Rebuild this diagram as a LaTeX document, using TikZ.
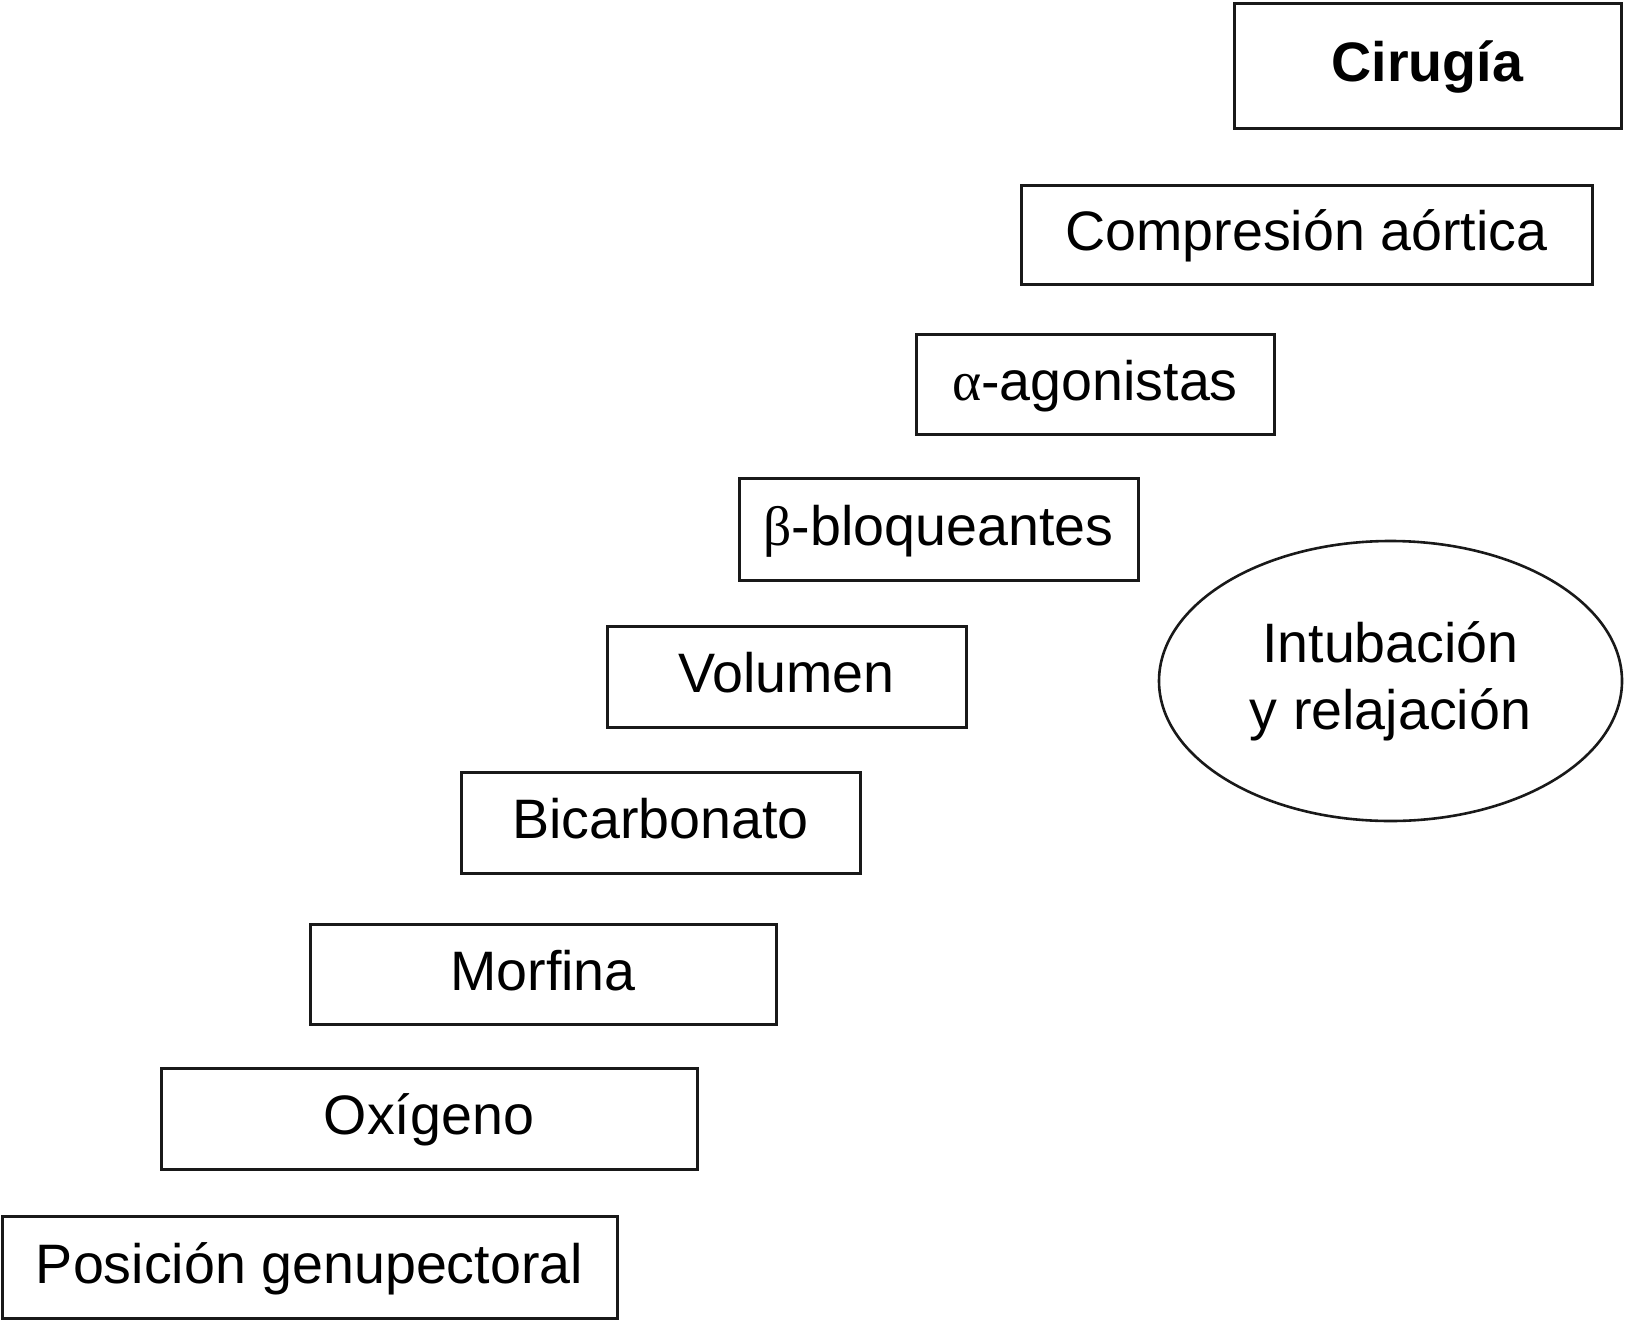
\documentclass[tikz,border=0pt]{standalone}
\usepackage{fontspec}
\setmainfont{Liberation Sans}
\newfontfamily\grk{Liberation Serif}
\usetikzlibrary{shapes.geometric}
\begin{document}
\begin{tikzpicture}[x=1pt,y=-1pt,
  stepbox/.style={draw=black!90,line width=3pt,rectangle,inner sep=0pt,
    text height=41.7pt,text depth=9.5pt,
    font=\fontsize{55.6}{66.7}\selectfont},
  ovalbox/.style={draw=black!90,line width=2.6pt,ellipse,inner sep=0pt,align=center,
    font=\fontsize{55.6}{67}\selectfont}]
\useasboundingbox (0,0) rectangle (1625,1320);
\node[stepbox,minimum width=387pt,minimum height=125pt] (cir) at (1427.5,65.5) {\bfseries Cirugía};
\node[stepbox,minimum width=571pt,minimum height=99pt] (comp) at (1306.5,234.5) {Compresión aórtica};
\node[stepbox,minimum width=358pt,minimum height=100pt] (alfa) at (1095,384) {{\grk α}-agonistas};
\node[stepbox,minimum width=399pt,minimum height=102pt] (beta) at (938.5,529) {{\grk β}-bloqueantes};
\node[stepbox,minimum width=359pt,minimum height=101pt] (vol) at (786.5,676.5) {Volumen};
\node[stepbox,minimum width=399pt,minimum height=101pt] (bic) at (660.5,822.5) {Bicarbonato};
\node[stepbox,minimum width=466pt,minimum height=100pt] (morf) at (543,974) {Morfina};
\node[stepbox,minimum width=536pt,minimum height=101pt] (oxi) at (429,1118.5) {Oxígeno};
\node[stepbox,minimum width=615pt,minimum height=102pt] (pos) at (309.5,1267) {Posición genupectoral};
\node[ovalbox,minimum width=463pt,minimum height=280pt] (intu) at (1390.5,681) {Intubación\\y relajación};
\end{tikzpicture}
\end{document}
